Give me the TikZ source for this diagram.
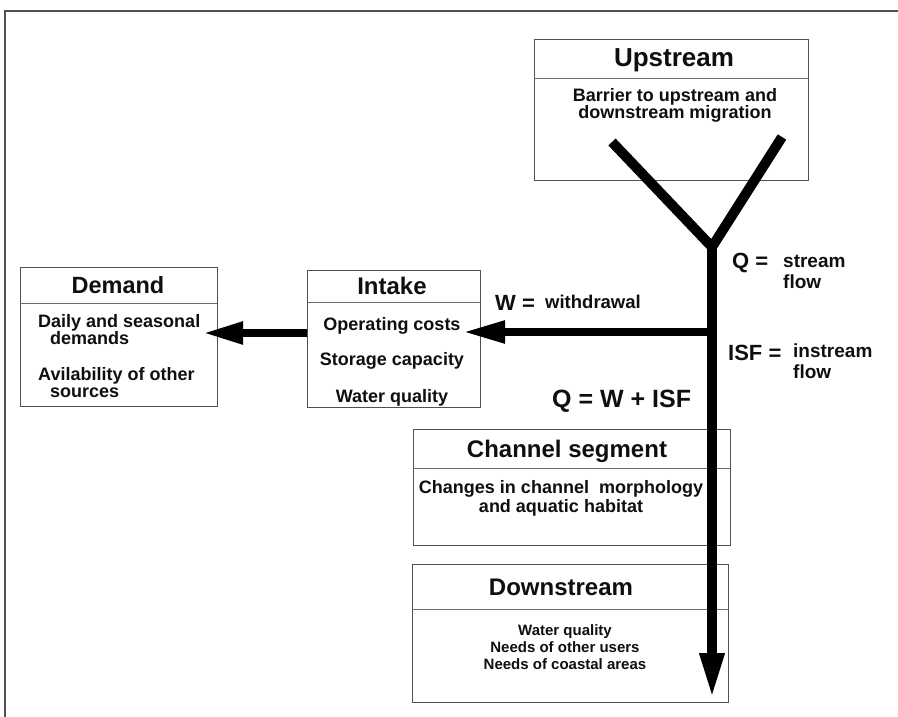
\documentclass[tikz,border=0pt]{standalone}
\usepackage{fontspec}
\setmainfont{Liberation Sans}
\usetikzlibrary{arrows.meta,calc}
\definecolor{boxgray}{RGB}{80,80,80}
\definecolor{divgray}{RGB}{110,110,110}
\definecolor{ink}{RGB}{15,15,15}
\newcommand{\fs}[1]{\fontsize{#1}{#1}\selectfont\bfseries}
\begin{document}
\begin{tikzpicture}[x=1pt,y=-1pt,
  box/.style={draw=boxgray, line width=1.1pt, fill=white, inner sep=0pt, anchor=north west},
  divider/.style={draw=divgray, line width=0.9pt},
  frameline/.style={draw=boxgray, line width=1.4pt},
  txt/.style={inner sep=0pt, text=ink, anchor=base},
  txtw/.style={inner sep=0pt, text=ink, anchor=base west},
  flow/.style={draw=black, line width=#1},
  stem/.style={draw=black, line width=10pt, line join=miter}
]
\useasboundingbox (0,0) rectangle (898,717);
% frame
\draw[frameline] (5,717) -- (5,11) -- (898,11);

% boxes
\node[box, minimum width=274pt, minimum height=141pt] (up) at (534,39) {};
\draw[divider] (534,78) -- (808,78);
\node[box, minimum width=197pt, minimum height=139pt] (dem) at (20,267) {};
\draw[divider] (20,303) -- (217,303);
\node[box, minimum width=173pt, minimum height=137pt] (int) at (307,270) {};
\draw[divider] (307,302) -- (480,302);
\node[box, minimum width=317pt, minimum height=116pt] (chan) at (413,429) {};
\draw[divider] (413,468) -- (730,468);
\node[box, minimum width=316pt, minimum height=138pt] (down) at (412,564) {};
\draw[divider] (412,609) -- (728,609);

% titles
\node[txt, font=\fs{26}] (upT) at (674,67) {Upstream};
\node[txt, font=\fs{23.5}] (demT) at (118,293) {Demand};
\node[txt, font=\fs{24}] (intT) at (392,294) {Intake};
\node[txt, font=\fs{24}] (chanT) at (567,457) {Channel segment};
\node[txt, font=\fs{24}] (downT) at (561,595) {Downstream};

% body texts
\node[txt, font=\fs{18}] (up1) at (675,102) {Barrier to upstream and};
\node[txt, font=\fs{18}] (up2) at (675,118.5) {downstream migration};
\node[txtw, font=\fs{18}] (dem1) at (38,327) {Daily and seasonal};
\node[txtw, font=\fs{18}] (dem2) at (50,344) {demands};
\node[txtw, font=\fs{18}] (dem3) at (38,380) {Avilability of other};
\node[txtw, font=\fs{18}] (dem4) at (50,397) {sources};
\node[txt, font=\fs{18}] (int1) at (392,330) {Operating costs};
\node[txt, font=\fs{18}] (int2) at (392,365) {Storage capacity};
\node[txt, font=\fs{18}] (int3) at (392,402) {Water quality};
\node[txt, font=\fs{18}] (ch1) at (561,493) {Changes in channel\ \ morphology};
\node[txt, font=\fs{18}] (ch2) at (561,512) {and aquatic habitat};
\node[txt, font=\fs{15}] (dn1) at (565,635) {Water quality};
\node[txt, font=\fs{15}] (dn2) at (565,652) {Needs of other users};
\node[txt, font=\fs{15}] (dn3) at (565,669) {Needs of coastal areas};

% flow labels
\node[txtw, font=\fs{22}] (wl) at (495,310) {W =};
\node[txtw, font=\fs{18.5}] (wt) at (545,308) {withdrawal};
\node[txtw, font=\fs{22}] (ql) at (732,268) {Q =};
\node[txtw, font=\fs{19}] (qt1) at (783,267) {stream};
\node[txtw, font=\fs{19}] (qt2) at (783,288) {flow};
\node[txtw, font=\fs{22}] (isl) at (728,360) {ISF =};
\node[txtw, font=\fs{19}] (ist1) at (793,357) {instream};
\node[txtw, font=\fs{19}] (ist2) at (793,378) {flow};
\node[txtw, font=\fs{25}] (eq) at (552,407) {Q = W + ISF};

% stream network
\coordinate (bl) at (612,142);
\coordinate (br) at (782,137);
\coordinate (j) at (712,247);
\coordinate (tip) at (712,698);
\coordinate (w0) at (712,332);
\coordinate (wtip) at (463,332);
\coordinate (dtip) at (203,333);

\draw[stem] (bl) -- (j) -- (br);
\draw[flow=9.5pt, -{Triangle[length=45pt,width=23pt]}] ([yshift=2pt]j) -- (tip);
\draw[flow=8pt, -{Triangle[length=42pt,width=21pt]}] (w0) -- (wtip);
\draw[flow=8pt, -{Triangle[length=40pt,width=21pt]}] (int.west |- dtip) -- (dtip);
\end{tikzpicture}
\end{document}
